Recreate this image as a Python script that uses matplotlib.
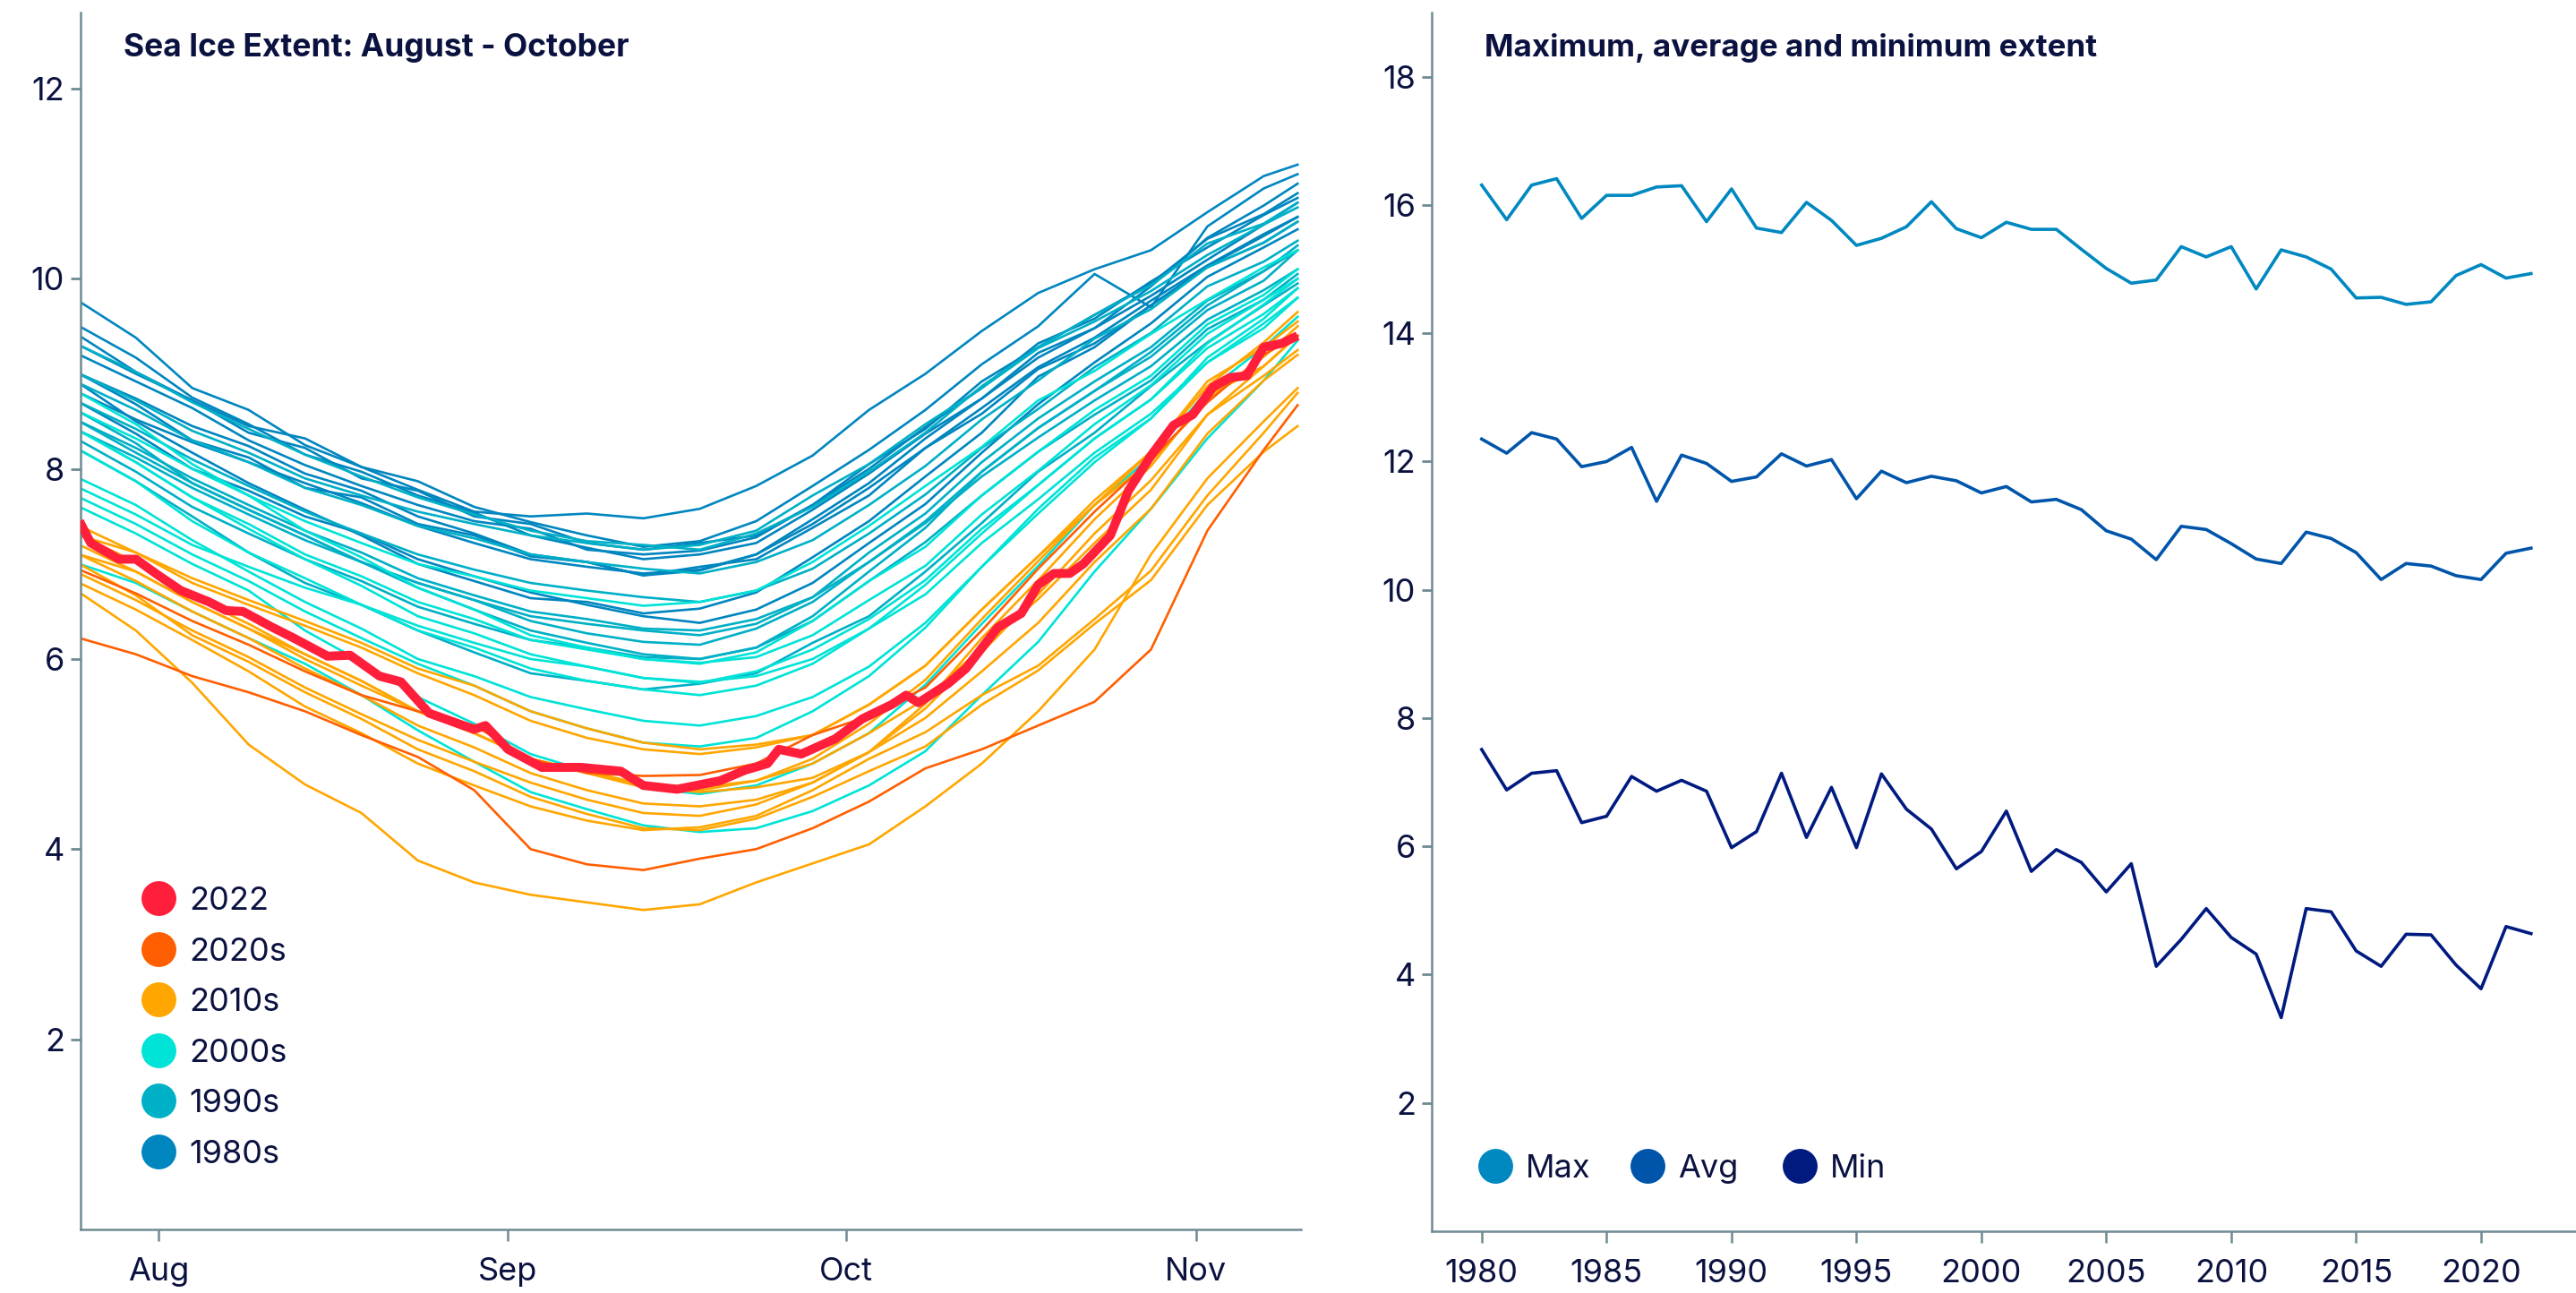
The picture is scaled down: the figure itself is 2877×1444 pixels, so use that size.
import matplotlib
matplotlib.use("Agg")
import matplotlib.pyplot as plt

plt.rcParams['font.family'] = ['Inter', 'DejaVu Sans']

NAVY = '#0b1240'
AXIS = '#6e8b92'

# ---------------- Left panel data (days relative to Aug 1; -7 = Jul 25, 101 = Nov 10) ----------------
days = [-7, -2, 3, 8, 13, 18, 23, 28, 33, 38, 43, 48, 53, 58, 63, 68, 73, 78, 83, 88, 93, 98, 101]

ext_1980s = {
    1980: [9.76, 9.38, 8.85, 8.62, 8.25, 8.02, 7.78, 7.55, 7.5, 7.53, 7.48, 7.58, 7.82, 8.14, 8.62, 9.0, 9.45, 9.85, 10.1, 10.3, 10.7, 11.08, 11.2],
    1981: [9.0, 8.68, 8.3, 8.12, 7.8, 7.7, 7.42, 7.3, 7.08, 7.02, 6.88, 6.97, 7.05, 7.38, 7.72, 8.22, 8.58, 9.05, 9.32, 9.72, 10.12, 10.38, 10.6],
    1982: [9.4, 9.02, 8.72, 8.38, 8.22, 7.9, 7.77, 7.5, 7.42, 7.22, 7.15, 7.22, 7.3, 7.62, 8.05, 8.42, 8.92, 9.28, 9.62, 9.95, 10.42, 10.68, 10.9],
    1983: [9.3, 9.0, 8.72, 8.45, 8.32, 8.02, 7.87, 7.6, 7.44, 7.3, 7.18, 7.24, 7.45, 7.82, 8.2, 8.62, 9.1, 9.5, 10.05, 9.7, 10.55, 10.95, 11.1],
    1984: [8.7, 8.37, 8.0, 7.77, 7.5, 7.32, 7.05, 6.87, 6.7, 6.57, 6.45, 6.38, 6.52, 6.8, 7.22, 7.63, 8.17, 8.68, 9.12, 9.53, 10.02, 10.33, 10.52],
    1985: [8.9, 8.5, 8.17, 7.85, 7.57, 7.3, 7.0, 6.82, 6.64, 6.6, 6.48, 6.53, 6.7, 7.07, 7.45, 7.92, 8.38, 8.97, 9.28, 9.72, 10.13, 10.45, 10.65],
    1986: [9.2, 8.92, 8.64, 8.3, 8.04, 7.82, 7.62, 7.45, 7.37, 7.15, 7.1, 7.14, 7.28, 7.62, 8.0, 8.44, 8.85, 9.32, 9.58, 9.97, 10.33, 10.67, 10.85],
    1987: [9.0, 8.74, 8.45, 8.24, 7.95, 7.77, 7.5, 7.32, 7.1, 7.02, 6.88, 6.93, 7.1, 7.47, 7.85, 8.32, 8.74, 9.22, 9.48, 9.92, 10.43, 10.77, 11.0],
    1988: [9.5, 9.17, 8.75, 8.47, 8.15, 7.97, 7.72, 7.54, 7.3, 7.17, 7.05, 7.1, 7.22, 7.57, 7.95, 8.37, 8.74, 9.17, 9.48, 9.82, 10.2, 10.57, 10.8],
    1989: [8.8, 8.52, 8.28, 8.07, 7.85, 7.64, 7.4, 7.22, 7.05, 6.97, 6.9, 6.94, 7.1, 7.42, 7.8, 8.22, 8.64, 9.07, 9.38, 9.77, 10.14, 10.47, 10.65],
}
ext_1990s = {
    1990: [8.6, 8.27, 7.85, 7.57, 7.3, 7.02, 6.75, 6.52, 6.3, 6.17, 6.05, 6.0, 6.12, 6.45, 6.92, 7.38, 7.97, 8.43, 8.82, 9.23, 9.72, 10.08, 10.35],
    1991: [8.4, 8.12, 7.8, 7.52, 7.25, 7.02, 6.8, 6.62, 6.45, 6.37, 6.3, 6.25, 6.37, 6.65, 7.12, 7.53, 8.07, 8.53, 8.92, 9.28, 9.77, 10.08, 10.3],
    1992: [9.0, 8.72, 8.4, 8.17, 7.9, 7.72, 7.55, 7.42, 7.3, 7.22, 7.15, 7.2, 7.35, 7.72, 8.05, 8.47, 8.85, 9.27, 9.55, 9.87, 10.25, 10.57, 10.75],
    1993: [8.5, 8.17, 7.85, 7.57, 7.3, 7.02, 6.8, 6.62, 6.4, 6.27, 6.18, 6.15, 6.32, 6.6, 7.02, 7.45, 7.97, 8.43, 8.82, 9.18, 9.67, 9.98, 10.3],
    1994: [8.9, 8.62, 8.3, 8.07, 7.8, 7.62, 7.4, 7.27, 7.1, 7.02, 6.95, 6.9, 7.02, 7.25, 7.62, 8.03, 8.52, 8.93, 9.37, 9.68, 10.12, 10.38, 10.6],
    1995: [8.3, 7.97, 7.6, 7.32, 7.05, 6.82, 6.55, 6.37, 6.2, 6.12, 6.02, 6.0, 6.12, 6.4, 6.82, 7.23, 7.72, 8.18, 8.57, 8.93, 9.47, 9.78, 10.05],
    1996: [9.3, 9.02, 8.7, 8.42, 8.15, 7.92, 7.7, 7.52, 7.35, 7.24, 7.2, 7.15, 7.32, 7.6, 7.97, 8.38, 8.87, 9.28, 9.62, 9.93, 10.37, 10.58, 10.8],
    1997: [8.7, 8.42, 8.1, 7.82, 7.55, 7.32, 7.1, 6.94, 6.8, 6.72, 6.65, 6.6, 6.72, 6.95, 7.32, 7.73, 8.22, 8.63, 9.07, 9.43, 9.92, 10.18, 10.4],
    1998: [8.5, 8.22, 7.9, 7.62, 7.35, 7.12, 6.85, 6.67, 6.5, 6.42, 6.32, 6.3, 6.42, 6.65, 7.02, 7.43, 7.92, 8.33, 8.72, 9.08, 9.57, 9.88, 10.1],
    1999: [8.2, 7.87, 7.5, 7.12, 6.8, 6.57, 6.3, 6.07, 5.85, 5.77, 5.68, 5.74, 5.85, 6.17, 6.45, 6.92, 7.43, 7.97, 8.38, 8.87, 9.33, 9.72, 9.95],
}
ext_2000s = {
    2000: [8.4, 8.07, 7.7, 7.42, 7.1, 6.87, 6.6, 6.42, 6.2, 6.1, 6.0, 5.95, 6.07, 6.4, 6.82, 7.18, 7.72, 8.18, 8.62, 8.98, 9.52, 9.83, 10.1],
    2001: [8.6, 8.32, 8.0, 7.72, 7.45, 7.22, 7.0, 6.87, 6.72, 6.64, 6.56, 6.6, 6.72, 7.02, 7.4, 7.82, 8.23, 8.72, 9.03, 9.42, 9.78, 10.12, 10.3],
    2002: [8.2, 7.87, 7.45, 7.12, 6.85, 6.57, 6.3, 6.12, 5.9, 5.77, 5.68, 5.62, 5.72, 5.95, 6.32, 6.78, 7.32, 7.83, 8.32, 8.73, 9.32, 9.73, 10.0],
    2003: [8.8, 8.47, 8.05, 7.72, 7.35, 7.07, 6.75, 6.52, 6.25, 6.12, 6.0, 5.96, 6.02, 6.25, 6.62, 6.98, 7.52, 7.98, 8.47, 8.88, 9.42, 9.78, 10.0],
    2004: [8.4, 8.07, 7.7, 7.37, 7.05, 6.77, 6.45, 6.27, 6.05, 5.92, 5.8, 5.75, 5.87, 6.1, 6.42, 6.83, 7.37, 7.83, 8.32, 8.73, 9.27, 9.63, 9.9],
    2005: [7.9, 7.62, 7.25, 6.92, 6.6, 6.32, 6.0, 5.82, 5.6, 5.47, 5.35, 5.3, 5.4, 5.6, 5.92, 6.38, 6.97, 7.53, 8.07, 8.53, 9.12, 9.53, 9.8],
    2006: [7.8, 7.52, 7.2, 6.97, 6.75, 6.57, 6.35, 6.17, 6.0, 5.92, 5.8, 5.76, 5.82, 6.0, 6.32, 6.68, 7.22, 7.68, 8.17, 8.58, 9.12, 9.48, 9.8],
    2007: [7.0, 6.8, 6.5, 6.22, 5.95, 5.62, 5.25, 4.92, 4.6, 4.42, 4.25, 4.18, 4.22, 4.4, 4.67, 5.03, 5.62, 6.18, 6.92, 7.58, 8.32, 8.93, 9.35],
    2008: [7.6, 7.32, 7.0, 6.72, 6.3, 5.97, 5.6, 5.32, 5.0, 4.82, 4.65, 4.58, 4.67, 4.9, 5.22, 5.73, 6.37, 6.98, 7.62, 8.13, 8.82, 9.28, 9.6],
    2009: [7.7, 7.42, 7.1, 6.82, 6.5, 6.22, 5.95, 5.72, 5.45, 5.27, 5.12, 5.08, 5.17, 5.45, 5.82, 6.33, 6.97, 7.58, 8.12, 8.53, 9.17, 9.58, 9.9],
}
ext_2010s = {
    2010: [7.2, 6.92, 6.6, 6.32, 6.0, 5.72, 5.45, 5.22, 4.95, 4.82, 4.68, 4.62, 4.72, 4.95, 5.32, 5.78, 6.42, 7.03, 7.62, 8.18, 8.92, 9.28, 9.55],
    2011: [6.9, 6.62, 6.3, 6.02, 5.7, 5.42, 5.15, 4.92, 4.7, 4.52, 4.38, 4.35, 4.47, 4.7, 5.02, 5.53, 6.22, 6.83, 7.47, 8.03, 8.77, 9.08, 9.4],
    2012: [6.7, 6.3, 5.75, 5.1, 4.68, 4.38, 3.88, 3.65, 3.52, 3.44, 3.36, 3.42, 3.65, 3.85, 4.05, 4.45, 4.9, 5.45, 6.1, 7.1, 7.9, 8.5, 8.85],
    2013: [7.3, 7.12, 6.85, 6.62, 6.4, 6.17, 5.9, 5.72, 5.45, 5.27, 5.12, 5.05, 5.1, 5.2, 5.52, 5.93, 6.52, 7.08, 7.62, 8.08, 8.72, 9.18, 9.5],
    2014: [7.4, 7.12, 6.8, 6.57, 6.35, 6.12, 5.85, 5.62, 5.35, 5.17, 5.05, 5.0, 5.07, 5.2, 5.52, 5.93, 6.52, 7.08, 7.67, 8.18, 8.87, 9.33, 9.65],
    2015: [7.1, 6.82, 6.5, 6.22, 5.9, 5.62, 5.3, 5.07, 4.8, 4.62, 4.48, 4.45, 4.52, 4.7, 5.02, 5.48, 6.07, 6.68, 7.32, 7.88, 8.57, 8.98, 9.25],
    2016: [7.0, 6.67, 6.25, 5.97, 5.65, 5.37, 5.05, 4.82, 4.55, 4.37, 4.22, 4.2, 4.32, 4.55, 4.82, 5.08, 5.52, 5.88, 6.37, 6.83, 7.62, 8.18, 8.45],
    2017: [7.1, 6.92, 6.6, 6.32, 6.05, 5.77, 5.45, 5.22, 4.95, 4.8, 4.68, 4.65, 4.72, 4.9, 5.22, 5.58, 6.12, 6.63, 7.22, 7.78, 8.57, 9.08, 9.4],
    2018: [7.3, 7.02, 6.65, 6.37, 6.05, 5.77, 5.45, 5.22, 4.95, 4.8, 4.65, 4.6, 4.65, 4.75, 5.02, 5.38, 5.87, 6.38, 7.02, 7.58, 8.37, 8.93, 9.2],
    2019: [6.8, 6.52, 6.2, 5.87, 5.5, 5.22, 4.9, 4.67, 4.45, 4.3, 4.2, 4.23, 4.35, 4.62, 4.95, 5.23, 5.62, 5.93, 6.42, 6.93, 7.72, 8.38, 8.8],
}
ext_2020s = {
    2020: [6.22, 6.05, 5.82, 5.65, 5.45, 5.2, 4.97, 4.62, 4.0, 3.84, 3.78, 3.9, 4.0, 4.22, 4.5, 4.85, 5.05, 5.3, 5.55, 6.1, 7.35, 8.2, 8.67],
    2021: [6.94, 6.69, 6.4, 6.15, 5.87, 5.62, 5.45, 5.3, 4.95, 4.8, 4.77, 4.78, 4.9, 5.2, 5.4, 5.7, 6.3, 6.95, 7.55, 8.1, 8.7, 9.2, 9.4],
}

days_2022 = [-7, -6, -3.5, -2, 0, 2, 4.5, 6, 7.5, 10, 12, 15, 17, 19.6, 21.5, 24, 28, 29,
             31, 34, 37.5, 41, 43, 46, 49.8, 52, 54, 55, 57, 60, 62.4, 65, 66.3, 67.4, 70,
             71.6, 74.4, 76.5, 78, 79.4, 80.8, 82, 84.4, 86, 88, 90, 91.7, 93.5, 95, 96.5,
             98, 99.6, 101]
ext_2022 = [7.45, 7.22, 7.05, 7.05, 6.88, 6.72, 6.6, 6.51, 6.5, 6.34, 6.22, 6.03, 6.04, 5.82,
            5.76, 5.43, 5.26, 5.3, 5.05, 4.86, 4.86, 4.82, 4.67, 4.63, 4.72, 4.83, 4.9, 5.05,
            5.0, 5.16, 5.37, 5.52, 5.62, 5.54, 5.74, 5.9, 6.33, 6.48, 6.78, 6.9, 6.9, 7.0,
            7.3, 7.77, 8.14, 8.46, 8.57, 8.86, 8.96, 8.98, 9.28, 9.32, 9.4]

month_ticks = [0, 31, 61, 92]
month_labels = ['Aug', 'Sep', 'Oct', 'Nov']

legend_left = ['2022', '2020s', '2010s', '2000s', '1990s', '1980s']
colors_left = ['#ff1f3a', '#ff5f00', '#ffa600', '#00e3d7', '#00b0c6', '#0086bf']

# ---------------- Right panel data ----------------
years = list(range(1980, 2023))
max_ext = [16.31, 15.77, 16.31, 16.41, 15.79, 16.15, 16.15, 16.28, 16.30, 15.74,
           16.25, 15.64, 15.57, 16.04, 15.76, 15.37, 15.48, 15.66, 16.05, 15.63,
           15.49, 15.73, 15.62, 15.62, 15.31, 15.01, 14.78, 14.83, 15.35, 15.19,
           15.35, 14.69, 15.30, 15.19, 15.00, 14.55, 14.56, 14.45, 14.49, 14.90,
           15.07, 14.86, 14.93]
avg_ext = [12.35, 12.13, 12.45, 12.35, 11.92, 12.00, 12.22, 11.38, 12.10, 11.97,
           11.69, 11.76, 12.12, 11.93, 12.03, 11.42, 11.85, 11.67, 11.77, 11.70,
           11.51, 11.61, 11.37, 11.41, 11.25, 10.92, 10.79, 10.47, 10.99, 10.94,
           10.72, 10.48, 10.41, 10.90, 10.80, 10.58, 10.16, 10.41, 10.37, 10.22,
           10.16, 10.57, 10.65]
min_ext = [7.51, 6.88, 7.14, 7.18, 6.37, 6.47, 7.09, 6.86, 7.03, 6.86,
           5.98, 6.23, 7.14, 6.14, 6.92, 5.98, 7.13, 6.58, 6.27, 5.65,
           5.92, 6.55, 5.61, 5.95, 5.75, 5.29, 5.73, 4.13, 4.55, 5.03,
           4.58, 4.32, 3.33, 5.03, 4.98, 4.37, 4.13, 4.63, 4.62, 4.15,
           3.78, 4.75, 4.64]
year_ticks = [1980, 1985, 1990, 1995, 2000, 2005, 2010, 2015, 2020]
legend_right = ['Max', 'Avg', 'Min']
colors_right = ['#0088c0', '#0055aa', '#001a80']

# ---------------- Figure ----------------
W, H = 2877, 1444
fig = plt.figure(figsize=(W / 100, H / 100), dpi=100)

ax1 = fig.add_axes([90 / W, 1 - 1373 / H, (1453 - 90) / W, (1373 - 14) / H])
ax2 = fig.add_axes([1599 / W, 1 - 1375 / H, (2877 - 1599) / W, (1375 - 14) / H])


def style(ax):
    for s in ['top', 'right']:
        ax.spines[s].set_visible(False)
    for s in ['left', 'bottom']:
        ax.spines[s].set_color(AXIS)
        ax.spines[s].set_linewidth(1.8)
    ax.tick_params(axis='y', length=8, width=2.0, color=AXIS, pad=5,
                   labelsize=26, labelcolor=NAVY)
    ax.tick_params(axis='x', length=9.5, width=1.8, color=AXIS, pad=13,
                   labelsize=26, labelcolor=NAVY)


groups = [(ext_1980s, colors_left[5]), (ext_1990s, colors_left[4]),
          (ext_2000s, colors_left[3]), (ext_2010s, colors_left[2]),
          (ext_2020s, colors_left[1])]
for data, col in groups:
    for yr, vals in data.items():
        ax1.plot(days, vals, color=col, lw=1.9, zorder=2)
ax1.plot(days_2022, ext_2022, color=colors_left[0], lw=7.2, zorder=5,
         solid_capstyle='butt')

ax1.set_xlim(-6.9, 101.3)
ax1.set_ylim(0, 12.8)
ax1.set_yticks([2, 4, 6, 8, 10, 12])
ax1.set_xticks(month_ticks)
ax1.set_xticklabels(month_labels)
style(ax1)

ax2.plot(years, max_ext, color=colors_right[0], lw=2.6)
ax2.plot(years, avg_ext, color=colors_right[1], lw=2.6)
ax2.plot(years, min_ext, color=colors_right[2], lw=2.6)
ax2.set_xlim(1978, 2023.8)
ax2.set_ylim(0, 19)
ax2.set_yticks([2, 4, 6, 8, 10, 12, 14, 16, 18])
ax2.set_xticks(year_ticks)
style(ax2)

# Titles
fig.text(138 / W, 1 - 63 / H, 'Sea Ice Extent: August - October', fontsize=25.5,
         fontweight='bold', color=NAVY, va='baseline', ha='left')
fig.text(1658 / W, 1 - 63 / H, 'Maximum, average and minimum extent', fontsize=25.2,
         fontweight='bold', color=NAVY, va='baseline', ha='left')

# Left legend
for i, (lab, col) in enumerate(zip(legend_left, colors_left)):
    yc = 1003 + i * 56.6
    fig.lines.append(plt.Line2D([177 / W], [1 - yc / H], marker='o', markersize=28,
                                markerfacecolor=col, markeredgecolor='none',
                                linestyle='none', transform=fig.transFigure))
    fig.text(211 / W, 1 - (yc + 13) / H, lab, fontsize=26, color=NAVY,
             va='baseline', ha='left')

# Right legend
for lab, col, xc in zip(legend_right, colors_right, [1670, 1840, 2010]):
    yc = 1302
    fig.lines.append(plt.Line2D([xc / W], [1 - yc / H], marker='o', markersize=28,
                                markerfacecolor=col, markeredgecolor='none',
                                linestyle='none', transform=fig.transFigure))
    fig.text((xc + 34) / W, 1 - (yc + 13) / H, lab, fontsize=26, color=NAVY,
             va='baseline', ha='left')

fig.savefig('out.png', dpi=100)
